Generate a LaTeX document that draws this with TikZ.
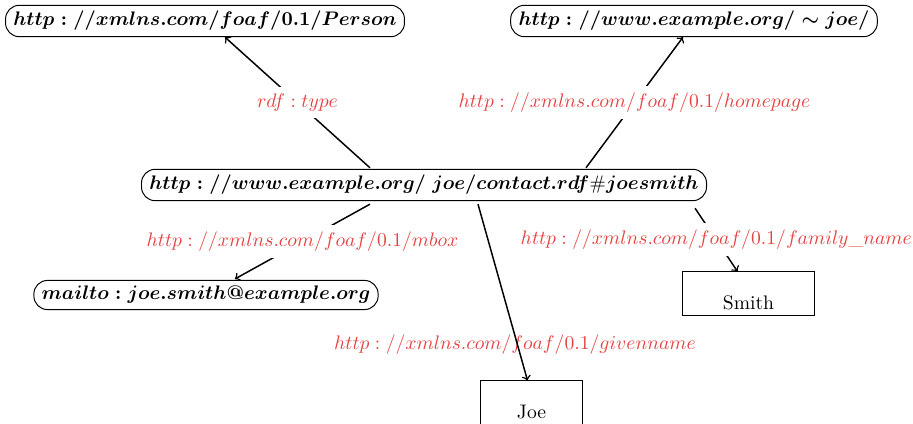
\documentclass[tikz,border=0pt]{standalone}
\usepackage{amsmath}
\usetikzlibrary{calc}
\definecolor{labelred}{rgb}{0.90,0.26,0.26}
\tikzset{
  resource/.style={draw, line width=0.5pt, rounded corners=7pt, inner xsep=4pt, inner ysep=3pt},
  literal/.style={draw, line width=0.5pt, rectangle, text height=16pt, text depth=0pt, inner sep=3pt},
  edgelabel/.style={fill=white, text=labelred},
  rel/.style={->, line width=0.75pt},
}
\begin{document}
\begin{tikzpicture}[x=0.51pt, y=-0.51pt]
  \useasboundingbox (0,0) rectangle (913,424);

  % resources
  \node[resource] (person) at (205,21) {$\boldsymbol{http://xmlns.com/foaf/0.1/Person}$};
  \node[resource] (home)   at (694,21) {$\boldsymbol{http://www.example.org/\sim joe/}$};
  \node[resource] (main)   at (424,185) {$\boldsymbol{http://www.example.org/~joe/contact.rdf}\#\boldsymbol{joesmith}$};
  \node[resource] (mail)   at (206,295) {$\boldsymbol{mailto:joe.smith@example.org}$};

  % literals
  \node[literal, minimum width=67.8pt] (smith) at (748.5,293.5) {Smith};
  \node[literal, minimum width=52.5pt] (joe) at (531.5,402.5) {Joe};

  % properties
  \draw[rel] ($(main.north)+(-54,-1)$) -- ($(person.south)+(20,0)$)
    node[midway, edgelabel] {$rdf:type$};
  \draw[rel] ($(main.north)+(162,-1)$) -- ($(home.south)+(-11,0)$)
    node[midway, edgelabel] {$http://xmlns.com/foaf/0.1/homepage$};
  \draw[rel] ($(main.south)+(-54,3)$) -- ($(mail.north)+(29,-1)$)
    node[midway, edgelabel] {$http://xmlns.com/foaf/0.1/mbox$};
  \draw[rel] ($(main.south)+(271,7)$) -- ($(smith.north)+(-11,0)$)
    node[midway, edgelabel] {$http://xmlns.com/foaf/0.1/family\_name$};
  \node[text=labelred] at (515,345) {$http://xmlns.com/foaf/0.1/givenname$};
  \draw[rel] ($(main.south)+(54,3)$) -- ($(joe.north)+(-4,0)$);
\end{tikzpicture}
\end{document}
